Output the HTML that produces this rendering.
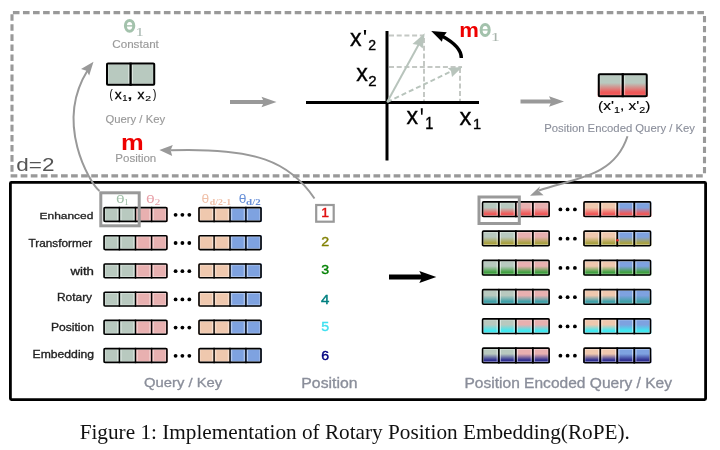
<!DOCTYPE html><html><head><meta charset="utf-8"><style>html,body{margin:0;padding:0;background:#fff;width:720px;height:450px;overflow:hidden}svg{display:block;will-change:transform}</style></head><body>
<svg width="720" height="450" viewBox="0 0 720 450">
<defs>
<linearGradient id="gg0" x1="0" y1="0" x2="0" y2="1"><stop offset="0.4" stop-color="#b8c9bf"/><stop offset="0.8" stop-color="#f05858"/></linearGradient>
<linearGradient id="gp0" x1="0" y1="0" x2="0" y2="1"><stop offset="0.4" stop-color="#e8b0b0"/><stop offset="0.8" stop-color="#f05858"/></linearGradient>
<linearGradient id="ge0" x1="0" y1="0" x2="0" y2="1"><stop offset="0.4" stop-color="#efc8ae"/><stop offset="0.8" stop-color="#f05858"/></linearGradient>
<linearGradient id="gb0" x1="0" y1="0" x2="0" y2="1"><stop offset="0.4" stop-color="#7ea2e0"/><stop offset="0.8" stop-color="#f05858"/></linearGradient>
<linearGradient id="gg1" x1="0" y1="0" x2="0" y2="1"><stop offset="0.4" stop-color="#b8c9bf"/><stop offset="0.8" stop-color="#a8a040"/></linearGradient>
<linearGradient id="gp1" x1="0" y1="0" x2="0" y2="1"><stop offset="0.4" stop-color="#e8b0b0"/><stop offset="0.8" stop-color="#a8a040"/></linearGradient>
<linearGradient id="ge1" x1="0" y1="0" x2="0" y2="1"><stop offset="0.4" stop-color="#efc8ae"/><stop offset="0.8" stop-color="#a8a040"/></linearGradient>
<linearGradient id="gb1" x1="0" y1="0" x2="0" y2="1"><stop offset="0.4" stop-color="#7ea2e0"/><stop offset="0.8" stop-color="#a8a040"/></linearGradient>
<linearGradient id="gg2" x1="0" y1="0" x2="0" y2="1"><stop offset="0.4" stop-color="#b8c9bf"/><stop offset="0.8" stop-color="#40a040"/></linearGradient>
<linearGradient id="gp2" x1="0" y1="0" x2="0" y2="1"><stop offset="0.4" stop-color="#e8b0b0"/><stop offset="0.8" stop-color="#40a040"/></linearGradient>
<linearGradient id="ge2" x1="0" y1="0" x2="0" y2="1"><stop offset="0.4" stop-color="#efc8ae"/><stop offset="0.8" stop-color="#40a040"/></linearGradient>
<linearGradient id="gb2" x1="0" y1="0" x2="0" y2="1"><stop offset="0.4" stop-color="#7ea2e0"/><stop offset="0.8" stop-color="#40a040"/></linearGradient>
<linearGradient id="gg3" x1="0" y1="0" x2="0" y2="1"><stop offset="0.4" stop-color="#b8c9bf"/><stop offset="0.8" stop-color="#40a0a8"/></linearGradient>
<linearGradient id="gp3" x1="0" y1="0" x2="0" y2="1"><stop offset="0.4" stop-color="#e8b0b0"/><stop offset="0.8" stop-color="#40a0a8"/></linearGradient>
<linearGradient id="ge3" x1="0" y1="0" x2="0" y2="1"><stop offset="0.4" stop-color="#efc8ae"/><stop offset="0.8" stop-color="#40a0a8"/></linearGradient>
<linearGradient id="gb3" x1="0" y1="0" x2="0" y2="1"><stop offset="0.4" stop-color="#7ea2e0"/><stop offset="0.8" stop-color="#40a0a8"/></linearGradient>
<linearGradient id="gg4" x1="0" y1="0" x2="0" y2="1"><stop offset="0.4" stop-color="#b8c9bf"/><stop offset="0.8" stop-color="#40e8f0"/></linearGradient>
<linearGradient id="gp4" x1="0" y1="0" x2="0" y2="1"><stop offset="0.4" stop-color="#e8b0b0"/><stop offset="0.8" stop-color="#40e8f0"/></linearGradient>
<linearGradient id="ge4" x1="0" y1="0" x2="0" y2="1"><stop offset="0.4" stop-color="#efc8ae"/><stop offset="0.8" stop-color="#40e8f0"/></linearGradient>
<linearGradient id="gb4" x1="0" y1="0" x2="0" y2="1"><stop offset="0.4" stop-color="#7ea2e0"/><stop offset="0.8" stop-color="#40e8f0"/></linearGradient>
<linearGradient id="gg5" x1="0" y1="0" x2="0" y2="1"><stop offset="0.4" stop-color="#b8c9bf"/><stop offset="0.8" stop-color="#303090"/></linearGradient>
<linearGradient id="gp5" x1="0" y1="0" x2="0" y2="1"><stop offset="0.4" stop-color="#e8b0b0"/><stop offset="0.8" stop-color="#303090"/></linearGradient>
<linearGradient id="ge5" x1="0" y1="0" x2="0" y2="1"><stop offset="0.4" stop-color="#efc8ae"/><stop offset="0.8" stop-color="#303090"/></linearGradient>
<linearGradient id="gb5" x1="0" y1="0" x2="0" y2="1"><stop offset="0.4" stop-color="#7ea2e0"/><stop offset="0.8" stop-color="#303090"/></linearGradient>
</defs>
<g stroke="#999999" stroke-width="3.1" fill="none">
<line x1="12.9" y1="12.65" x2="704.5" y2="12.65" stroke-dasharray="6.6 3.465"/>
<line x1="12" y1="14.2" x2="12" y2="172" stroke-dasharray="6.6 3.46"/>
<line x1="10.6" y1="175.85" x2="703" y2="175.85" stroke-dasharray="6.7 3.38"/>
<line x1="704.5" y1="16" x2="704.5" y2="173.5" stroke-dasharray="6.3 3.76"/>
</g>
<rect x="10.4" y="182.3" width="695.2" height="217.3" fill="none" stroke="#000" stroke-width="2.8" rx="1"/>
<line x1="230" y1="102" x2="268.5" y2="102" stroke="#999999" stroke-width="3.8"/>
<path d="M276.5,102 L261.5,96.7 L264.0,102 L261.5,107.3 Z" fill="#999999"/>
<line x1="520.5" y1="101.5" x2="556" y2="101.5" stroke="#999999" stroke-width="3.8"/>
<path d="M564,101.5 L549,96.2 L551.5,101.5 L549,106.8 Z" fill="#999999"/>
<line x1="306" y1="102.5" x2="479" y2="102.5" stroke="#000" stroke-width="3"/>
<line x1="387" y1="31" x2="387" y2="160.5" stroke="#000" stroke-width="3"/>
<g stroke="#c4c8c4" stroke-width="2" stroke-dasharray="5 2.7" fill="none">
<line x1="389" y1="35.6" x2="424" y2="35.6"/>
<line x1="424" y1="38" x2="424" y2="101"/>
<line x1="389" y1="67" x2="462" y2="67"/>
<line x1="460" y1="68" x2="460" y2="101"/>
</g>
<line x1="387.2" y1="102" x2="419.5" y2="43" stroke="#b8c4bc" stroke-width="2"/>
<path d="M424.7,33.3 L412.5,44 L418.7,45 L422.7,48.5 Z" fill="#b8c4bc"/>
<line x1="387.2" y1="102" x2="452" y2="71" stroke="#b8c4bc" stroke-width="2" stroke-dasharray="5 3"/>
<path d="M462.3,67 L447.8,68 L451,71 L452,77 Z" fill="#b8c4bc"/>
<path d="M461.3,58 C461.5,49 453,42 442,36" stroke="#000" stroke-width="3.5" fill="none"/>
<path d="M431.2,30.9 L446.8,32.2 L443.2,36.7 L441.9,41.8 Z" fill="#000"/>
<g stroke="#999999" stroke-width="2" fill="none">
<path d="M99.5,191 C89.3,182.2 54.6,123.5 87.5,70.5"/>
<path d="M314.5,198.5 C289.7,161.9 256.4,147.6 170.5,150.3"/>
<path d="M627.5,136.3 C614,177.9 573.4,178.1 539,190.5"/>
</g>
<g fill="#999999">
<path d="M93.5,61.8 L81,69 L86.5,70.8 L89.2,75.5 Z"/>
<path d="M159.4,150 L172.8,145 L170.6,150.3 L172.2,156 Z"/>
<path d="M530,195.8 L540,186.2 L538.5,190.7 L543.6,195.3 Z"/>
</g>
<rect x="103.30" y="207.30" width="16.10" height="14.40" fill="#b8c9bf"/>
<rect x="105.00" y="208.50" width="12.70" height="12.00" fill="none" stroke="#fff" stroke-opacity="0.55" stroke-width="0.9"/>
<rect x="119.40" y="207.30" width="16.10" height="14.40" fill="#b8c9bf"/>
<rect x="121.10" y="208.50" width="12.70" height="12.00" fill="none" stroke="#fff" stroke-opacity="0.55" stroke-width="0.9"/>
<rect x="135.50" y="207.30" width="16.10" height="14.40" fill="#e8b0b0"/>
<rect x="137.20" y="208.50" width="12.70" height="12.00" fill="none" stroke="#fff" stroke-opacity="0.55" stroke-width="0.9"/>
<rect x="151.60" y="207.30" width="16.10" height="14.40" fill="#e8b0b0"/>
<rect x="153.30" y="208.50" width="12.70" height="12.00" fill="none" stroke="#fff" stroke-opacity="0.55" stroke-width="0.9"/>
<rect x="104.10" y="207.60" width="62.80" height="13.80" rx="1" fill="none" stroke="#000" stroke-width="1.6"/>
<line x1="119.40" y1="206.80" x2="119.40" y2="222.20" stroke="#000" stroke-width="1.4"/>
<line x1="135.50" y1="206.80" x2="135.50" y2="222.20" stroke="#000" stroke-width="1.4"/>
<line x1="151.60" y1="206.80" x2="151.60" y2="222.20" stroke="#000" stroke-width="1.4"/>
<rect x="198.20" y="207.30" width="15.90" height="14.40" fill="#efc8ae"/>
<rect x="199.90" y="208.50" width="12.50" height="12.00" fill="none" stroke="#fff" stroke-opacity="0.55" stroke-width="0.9"/>
<rect x="214.10" y="207.30" width="15.90" height="14.40" fill="#efc8ae"/>
<rect x="215.80" y="208.50" width="12.50" height="12.00" fill="none" stroke="#fff" stroke-opacity="0.55" stroke-width="0.9"/>
<rect x="230.00" y="207.30" width="15.90" height="14.40" fill="#7ea2e0"/>
<rect x="231.70" y="208.50" width="12.50" height="12.00" fill="none" stroke="#fff" stroke-opacity="0.55" stroke-width="0.9"/>
<rect x="245.90" y="207.30" width="15.90" height="14.40" fill="#7ea2e0"/>
<rect x="247.60" y="208.50" width="12.50" height="12.00" fill="none" stroke="#fff" stroke-opacity="0.55" stroke-width="0.9"/>
<rect x="199.00" y="207.60" width="62.00" height="13.80" rx="1" fill="none" stroke="#000" stroke-width="1.6"/>
<line x1="214.10" y1="206.80" x2="214.10" y2="222.20" stroke="#000" stroke-width="1.4"/>
<line x1="230.00" y1="206.80" x2="230.00" y2="222.20" stroke="#000" stroke-width="1.4"/>
<line x1="245.90" y1="206.80" x2="245.90" y2="222.20" stroke="#000" stroke-width="1.4"/>
<circle cx="175.6" cy="214.8" r="1.9" fill="#000"/>
<circle cx="182.4" cy="214.8" r="1.9" fill="#000"/>
<circle cx="189.3" cy="214.8" r="1.9" fill="#000"/>
<rect x="481.80" y="201.60" width="17.02" height="15.20" fill="url(#gg0)"/>
<rect x="483.50" y="202.80" width="13.62" height="12.80" fill="none" stroke="#fff" stroke-opacity="0.55" stroke-width="0.9"/>
<rect x="498.82" y="201.60" width="17.02" height="15.20" fill="url(#gg0)"/>
<rect x="500.52" y="202.80" width="13.62" height="12.80" fill="none" stroke="#fff" stroke-opacity="0.55" stroke-width="0.9"/>
<rect x="515.85" y="201.60" width="17.02" height="15.20" fill="url(#gp0)"/>
<rect x="517.55" y="202.80" width="13.62" height="12.80" fill="none" stroke="#fff" stroke-opacity="0.55" stroke-width="0.9"/>
<rect x="532.88" y="201.60" width="17.02" height="15.20" fill="url(#gp0)"/>
<rect x="534.57" y="202.80" width="13.62" height="12.80" fill="none" stroke="#fff" stroke-opacity="0.55" stroke-width="0.9"/>
<rect x="482.60" y="201.90" width="66.50" height="14.60" rx="1" fill="none" stroke="#000" stroke-width="1.6"/>
<line x1="498.82" y1="201.10" x2="498.82" y2="217.30" stroke="#000" stroke-width="1.7"/>
<line x1="515.85" y1="201.10" x2="515.85" y2="217.30" stroke="#000" stroke-width="1.7"/>
<line x1="532.88" y1="201.10" x2="532.88" y2="217.30" stroke="#000" stroke-width="1.7"/>
<rect x="583.20" y="201.60" width="17.02" height="15.20" fill="url(#ge0)"/>
<rect x="584.90" y="202.80" width="13.62" height="12.80" fill="none" stroke="#fff" stroke-opacity="0.55" stroke-width="0.9"/>
<rect x="600.23" y="201.60" width="17.02" height="15.20" fill="url(#ge0)"/>
<rect x="601.92" y="202.80" width="13.62" height="12.80" fill="none" stroke="#fff" stroke-opacity="0.55" stroke-width="0.9"/>
<rect x="617.25" y="201.60" width="17.02" height="15.20" fill="url(#gb0)"/>
<rect x="618.95" y="202.80" width="13.62" height="12.80" fill="none" stroke="#fff" stroke-opacity="0.55" stroke-width="0.9"/>
<rect x="634.27" y="201.60" width="17.02" height="15.20" fill="url(#gb0)"/>
<rect x="635.97" y="202.80" width="13.62" height="12.80" fill="none" stroke="#fff" stroke-opacity="0.55" stroke-width="0.9"/>
<rect x="584.00" y="201.90" width="66.50" height="14.60" rx="1" fill="none" stroke="#000" stroke-width="1.6"/>
<line x1="600.23" y1="201.10" x2="600.23" y2="217.30" stroke="#000" stroke-width="1.7"/>
<line x1="617.25" y1="201.10" x2="617.25" y2="217.30" stroke="#000" stroke-width="1.7"/>
<line x1="634.27" y1="201.10" x2="634.27" y2="217.30" stroke="#000" stroke-width="1.7"/>
<circle cx="560.4" cy="209.4" r="1.9" fill="#000"/>
<circle cx="567.6" cy="209.4" r="1.9" fill="#000"/>
<circle cx="574.9" cy="209.4" r="1.9" fill="#000"/>
<rect x="103.30" y="235.50" width="16.10" height="14.40" fill="#b8c9bf"/>
<rect x="105.00" y="236.70" width="12.70" height="12.00" fill="none" stroke="#fff" stroke-opacity="0.55" stroke-width="0.9"/>
<rect x="119.40" y="235.50" width="16.10" height="14.40" fill="#b8c9bf"/>
<rect x="121.10" y="236.70" width="12.70" height="12.00" fill="none" stroke="#fff" stroke-opacity="0.55" stroke-width="0.9"/>
<rect x="135.50" y="235.50" width="16.10" height="14.40" fill="#e8b0b0"/>
<rect x="137.20" y="236.70" width="12.70" height="12.00" fill="none" stroke="#fff" stroke-opacity="0.55" stroke-width="0.9"/>
<rect x="151.60" y="235.50" width="16.10" height="14.40" fill="#e8b0b0"/>
<rect x="153.30" y="236.70" width="12.70" height="12.00" fill="none" stroke="#fff" stroke-opacity="0.55" stroke-width="0.9"/>
<rect x="104.10" y="235.80" width="62.80" height="13.80" rx="1" fill="none" stroke="#000" stroke-width="1.6"/>
<line x1="119.40" y1="235.00" x2="119.40" y2="250.40" stroke="#000" stroke-width="1.4"/>
<line x1="135.50" y1="235.00" x2="135.50" y2="250.40" stroke="#000" stroke-width="1.4"/>
<line x1="151.60" y1="235.00" x2="151.60" y2="250.40" stroke="#000" stroke-width="1.4"/>
<rect x="198.20" y="235.50" width="15.90" height="14.40" fill="#efc8ae"/>
<rect x="199.90" y="236.70" width="12.50" height="12.00" fill="none" stroke="#fff" stroke-opacity="0.55" stroke-width="0.9"/>
<rect x="214.10" y="235.50" width="15.90" height="14.40" fill="#efc8ae"/>
<rect x="215.80" y="236.70" width="12.50" height="12.00" fill="none" stroke="#fff" stroke-opacity="0.55" stroke-width="0.9"/>
<rect x="230.00" y="235.50" width="15.90" height="14.40" fill="#7ea2e0"/>
<rect x="231.70" y="236.70" width="12.50" height="12.00" fill="none" stroke="#fff" stroke-opacity="0.55" stroke-width="0.9"/>
<rect x="245.90" y="235.50" width="15.90" height="14.40" fill="#7ea2e0"/>
<rect x="247.60" y="236.70" width="12.50" height="12.00" fill="none" stroke="#fff" stroke-opacity="0.55" stroke-width="0.9"/>
<rect x="199.00" y="235.80" width="62.00" height="13.80" rx="1" fill="none" stroke="#000" stroke-width="1.6"/>
<line x1="214.10" y1="235.00" x2="214.10" y2="250.40" stroke="#000" stroke-width="1.4"/>
<line x1="230.00" y1="235.00" x2="230.00" y2="250.40" stroke="#000" stroke-width="1.4"/>
<line x1="245.90" y1="235.00" x2="245.90" y2="250.40" stroke="#000" stroke-width="1.4"/>
<circle cx="175.6" cy="243.0" r="1.9" fill="#000"/>
<circle cx="182.4" cy="243.0" r="1.9" fill="#000"/>
<circle cx="189.3" cy="243.0" r="1.9" fill="#000"/>
<rect x="481.80" y="230.85" width="17.02" height="15.20" fill="url(#gg1)"/>
<rect x="483.50" y="232.05" width="13.62" height="12.80" fill="none" stroke="#fff" stroke-opacity="0.55" stroke-width="0.9"/>
<rect x="498.82" y="230.85" width="17.02" height="15.20" fill="url(#gg1)"/>
<rect x="500.52" y="232.05" width="13.62" height="12.80" fill="none" stroke="#fff" stroke-opacity="0.55" stroke-width="0.9"/>
<rect x="515.85" y="230.85" width="17.02" height="15.20" fill="url(#gp1)"/>
<rect x="517.55" y="232.05" width="13.62" height="12.80" fill="none" stroke="#fff" stroke-opacity="0.55" stroke-width="0.9"/>
<rect x="532.88" y="230.85" width="17.02" height="15.20" fill="url(#gp1)"/>
<rect x="534.57" y="232.05" width="13.62" height="12.80" fill="none" stroke="#fff" stroke-opacity="0.55" stroke-width="0.9"/>
<rect x="482.60" y="231.15" width="66.50" height="14.60" rx="1" fill="none" stroke="#000" stroke-width="1.6"/>
<line x1="498.82" y1="230.35" x2="498.82" y2="246.55" stroke="#000" stroke-width="1.7"/>
<line x1="515.85" y1="230.35" x2="515.85" y2="246.55" stroke="#000" stroke-width="1.7"/>
<line x1="532.88" y1="230.35" x2="532.88" y2="246.55" stroke="#000" stroke-width="1.7"/>
<rect x="583.20" y="230.85" width="17.02" height="15.20" fill="url(#ge1)"/>
<rect x="584.90" y="232.05" width="13.62" height="12.80" fill="none" stroke="#fff" stroke-opacity="0.55" stroke-width="0.9"/>
<rect x="600.23" y="230.85" width="17.02" height="15.20" fill="url(#ge1)"/>
<rect x="601.92" y="232.05" width="13.62" height="12.80" fill="none" stroke="#fff" stroke-opacity="0.55" stroke-width="0.9"/>
<rect x="617.25" y="230.85" width="17.02" height="15.20" fill="url(#gb1)"/>
<rect x="618.95" y="232.05" width="13.62" height="12.80" fill="none" stroke="#fff" stroke-opacity="0.55" stroke-width="0.9"/>
<rect x="634.27" y="230.85" width="17.02" height="15.20" fill="url(#gb1)"/>
<rect x="635.97" y="232.05" width="13.62" height="12.80" fill="none" stroke="#fff" stroke-opacity="0.55" stroke-width="0.9"/>
<rect x="584.00" y="231.15" width="66.50" height="14.60" rx="1" fill="none" stroke="#000" stroke-width="1.6"/>
<line x1="600.23" y1="230.35" x2="600.23" y2="246.55" stroke="#000" stroke-width="1.7"/>
<line x1="617.25" y1="230.35" x2="617.25" y2="246.55" stroke="#000" stroke-width="1.7"/>
<line x1="634.27" y1="230.35" x2="634.27" y2="246.55" stroke="#000" stroke-width="1.7"/>
<circle cx="560.4" cy="238.65" r="1.9" fill="#000"/>
<circle cx="567.6" cy="238.65" r="1.9" fill="#000"/>
<circle cx="574.9" cy="238.65" r="1.9" fill="#000"/>
<rect x="103.30" y="263.70" width="16.10" height="14.40" fill="#b8c9bf"/>
<rect x="105.00" y="264.90" width="12.70" height="12.00" fill="none" stroke="#fff" stroke-opacity="0.55" stroke-width="0.9"/>
<rect x="119.40" y="263.70" width="16.10" height="14.40" fill="#b8c9bf"/>
<rect x="121.10" y="264.90" width="12.70" height="12.00" fill="none" stroke="#fff" stroke-opacity="0.55" stroke-width="0.9"/>
<rect x="135.50" y="263.70" width="16.10" height="14.40" fill="#e8b0b0"/>
<rect x="137.20" y="264.90" width="12.70" height="12.00" fill="none" stroke="#fff" stroke-opacity="0.55" stroke-width="0.9"/>
<rect x="151.60" y="263.70" width="16.10" height="14.40" fill="#e8b0b0"/>
<rect x="153.30" y="264.90" width="12.70" height="12.00" fill="none" stroke="#fff" stroke-opacity="0.55" stroke-width="0.9"/>
<rect x="104.10" y="264.00" width="62.80" height="13.80" rx="1" fill="none" stroke="#000" stroke-width="1.6"/>
<line x1="119.40" y1="263.20" x2="119.40" y2="278.60" stroke="#000" stroke-width="1.4"/>
<line x1="135.50" y1="263.20" x2="135.50" y2="278.60" stroke="#000" stroke-width="1.4"/>
<line x1="151.60" y1="263.20" x2="151.60" y2="278.60" stroke="#000" stroke-width="1.4"/>
<rect x="198.20" y="263.70" width="15.90" height="14.40" fill="#efc8ae"/>
<rect x="199.90" y="264.90" width="12.50" height="12.00" fill="none" stroke="#fff" stroke-opacity="0.55" stroke-width="0.9"/>
<rect x="214.10" y="263.70" width="15.90" height="14.40" fill="#efc8ae"/>
<rect x="215.80" y="264.90" width="12.50" height="12.00" fill="none" stroke="#fff" stroke-opacity="0.55" stroke-width="0.9"/>
<rect x="230.00" y="263.70" width="15.90" height="14.40" fill="#7ea2e0"/>
<rect x="231.70" y="264.90" width="12.50" height="12.00" fill="none" stroke="#fff" stroke-opacity="0.55" stroke-width="0.9"/>
<rect x="245.90" y="263.70" width="15.90" height="14.40" fill="#7ea2e0"/>
<rect x="247.60" y="264.90" width="12.50" height="12.00" fill="none" stroke="#fff" stroke-opacity="0.55" stroke-width="0.9"/>
<rect x="199.00" y="264.00" width="62.00" height="13.80" rx="1" fill="none" stroke="#000" stroke-width="1.6"/>
<line x1="214.10" y1="263.20" x2="214.10" y2="278.60" stroke="#000" stroke-width="1.4"/>
<line x1="230.00" y1="263.20" x2="230.00" y2="278.60" stroke="#000" stroke-width="1.4"/>
<line x1="245.90" y1="263.20" x2="245.90" y2="278.60" stroke="#000" stroke-width="1.4"/>
<circle cx="175.6" cy="271.2" r="1.9" fill="#000"/>
<circle cx="182.4" cy="271.2" r="1.9" fill="#000"/>
<circle cx="189.3" cy="271.2" r="1.9" fill="#000"/>
<rect x="481.80" y="260.10" width="17.02" height="15.20" fill="url(#gg2)"/>
<rect x="483.50" y="261.30" width="13.62" height="12.80" fill="none" stroke="#fff" stroke-opacity="0.55" stroke-width="0.9"/>
<rect x="498.82" y="260.10" width="17.02" height="15.20" fill="url(#gg2)"/>
<rect x="500.52" y="261.30" width="13.62" height="12.80" fill="none" stroke="#fff" stroke-opacity="0.55" stroke-width="0.9"/>
<rect x="515.85" y="260.10" width="17.02" height="15.20" fill="url(#gp2)"/>
<rect x="517.55" y="261.30" width="13.62" height="12.80" fill="none" stroke="#fff" stroke-opacity="0.55" stroke-width="0.9"/>
<rect x="532.88" y="260.10" width="17.02" height="15.20" fill="url(#gp2)"/>
<rect x="534.57" y="261.30" width="13.62" height="12.80" fill="none" stroke="#fff" stroke-opacity="0.55" stroke-width="0.9"/>
<rect x="482.60" y="260.40" width="66.50" height="14.60" rx="1" fill="none" stroke="#000" stroke-width="1.6"/>
<line x1="498.82" y1="259.60" x2="498.82" y2="275.80" stroke="#000" stroke-width="1.7"/>
<line x1="515.85" y1="259.60" x2="515.85" y2="275.80" stroke="#000" stroke-width="1.7"/>
<line x1="532.88" y1="259.60" x2="532.88" y2="275.80" stroke="#000" stroke-width="1.7"/>
<rect x="583.20" y="260.10" width="17.02" height="15.20" fill="url(#ge2)"/>
<rect x="584.90" y="261.30" width="13.62" height="12.80" fill="none" stroke="#fff" stroke-opacity="0.55" stroke-width="0.9"/>
<rect x="600.23" y="260.10" width="17.02" height="15.20" fill="url(#ge2)"/>
<rect x="601.92" y="261.30" width="13.62" height="12.80" fill="none" stroke="#fff" stroke-opacity="0.55" stroke-width="0.9"/>
<rect x="617.25" y="260.10" width="17.02" height="15.20" fill="url(#gb2)"/>
<rect x="618.95" y="261.30" width="13.62" height="12.80" fill="none" stroke="#fff" stroke-opacity="0.55" stroke-width="0.9"/>
<rect x="634.27" y="260.10" width="17.02" height="15.20" fill="url(#gb2)"/>
<rect x="635.97" y="261.30" width="13.62" height="12.80" fill="none" stroke="#fff" stroke-opacity="0.55" stroke-width="0.9"/>
<rect x="584.00" y="260.40" width="66.50" height="14.60" rx="1" fill="none" stroke="#000" stroke-width="1.6"/>
<line x1="600.23" y1="259.60" x2="600.23" y2="275.80" stroke="#000" stroke-width="1.7"/>
<line x1="617.25" y1="259.60" x2="617.25" y2="275.80" stroke="#000" stroke-width="1.7"/>
<line x1="634.27" y1="259.60" x2="634.27" y2="275.80" stroke="#000" stroke-width="1.7"/>
<circle cx="560.4" cy="267.90000000000003" r="1.9" fill="#000"/>
<circle cx="567.6" cy="267.90000000000003" r="1.9" fill="#000"/>
<circle cx="574.9" cy="267.90000000000003" r="1.9" fill="#000"/>
<rect x="103.30" y="291.90" width="16.10" height="14.40" fill="#b8c9bf"/>
<rect x="105.00" y="293.10" width="12.70" height="12.00" fill="none" stroke="#fff" stroke-opacity="0.55" stroke-width="0.9"/>
<rect x="119.40" y="291.90" width="16.10" height="14.40" fill="#b8c9bf"/>
<rect x="121.10" y="293.10" width="12.70" height="12.00" fill="none" stroke="#fff" stroke-opacity="0.55" stroke-width="0.9"/>
<rect x="135.50" y="291.90" width="16.10" height="14.40" fill="#e8b0b0"/>
<rect x="137.20" y="293.10" width="12.70" height="12.00" fill="none" stroke="#fff" stroke-opacity="0.55" stroke-width="0.9"/>
<rect x="151.60" y="291.90" width="16.10" height="14.40" fill="#e8b0b0"/>
<rect x="153.30" y="293.10" width="12.70" height="12.00" fill="none" stroke="#fff" stroke-opacity="0.55" stroke-width="0.9"/>
<rect x="104.10" y="292.20" width="62.80" height="13.80" rx="1" fill="none" stroke="#000" stroke-width="1.6"/>
<line x1="119.40" y1="291.40" x2="119.40" y2="306.80" stroke="#000" stroke-width="1.4"/>
<line x1="135.50" y1="291.40" x2="135.50" y2="306.80" stroke="#000" stroke-width="1.4"/>
<line x1="151.60" y1="291.40" x2="151.60" y2="306.80" stroke="#000" stroke-width="1.4"/>
<rect x="198.20" y="291.90" width="15.90" height="14.40" fill="#efc8ae"/>
<rect x="199.90" y="293.10" width="12.50" height="12.00" fill="none" stroke="#fff" stroke-opacity="0.55" stroke-width="0.9"/>
<rect x="214.10" y="291.90" width="15.90" height="14.40" fill="#efc8ae"/>
<rect x="215.80" y="293.10" width="12.50" height="12.00" fill="none" stroke="#fff" stroke-opacity="0.55" stroke-width="0.9"/>
<rect x="230.00" y="291.90" width="15.90" height="14.40" fill="#7ea2e0"/>
<rect x="231.70" y="293.10" width="12.50" height="12.00" fill="none" stroke="#fff" stroke-opacity="0.55" stroke-width="0.9"/>
<rect x="245.90" y="291.90" width="15.90" height="14.40" fill="#7ea2e0"/>
<rect x="247.60" y="293.10" width="12.50" height="12.00" fill="none" stroke="#fff" stroke-opacity="0.55" stroke-width="0.9"/>
<rect x="199.00" y="292.20" width="62.00" height="13.80" rx="1" fill="none" stroke="#000" stroke-width="1.6"/>
<line x1="214.10" y1="291.40" x2="214.10" y2="306.80" stroke="#000" stroke-width="1.4"/>
<line x1="230.00" y1="291.40" x2="230.00" y2="306.80" stroke="#000" stroke-width="1.4"/>
<line x1="245.90" y1="291.40" x2="245.90" y2="306.80" stroke="#000" stroke-width="1.4"/>
<circle cx="175.6" cy="299.4" r="1.9" fill="#000"/>
<circle cx="182.4" cy="299.4" r="1.9" fill="#000"/>
<circle cx="189.3" cy="299.4" r="1.9" fill="#000"/>
<rect x="481.80" y="289.35" width="17.02" height="15.20" fill="url(#gg3)"/>
<rect x="483.50" y="290.55" width="13.62" height="12.80" fill="none" stroke="#fff" stroke-opacity="0.55" stroke-width="0.9"/>
<rect x="498.82" y="289.35" width="17.02" height="15.20" fill="url(#gg3)"/>
<rect x="500.52" y="290.55" width="13.62" height="12.80" fill="none" stroke="#fff" stroke-opacity="0.55" stroke-width="0.9"/>
<rect x="515.85" y="289.35" width="17.02" height="15.20" fill="url(#gp3)"/>
<rect x="517.55" y="290.55" width="13.62" height="12.80" fill="none" stroke="#fff" stroke-opacity="0.55" stroke-width="0.9"/>
<rect x="532.88" y="289.35" width="17.02" height="15.20" fill="url(#gp3)"/>
<rect x="534.57" y="290.55" width="13.62" height="12.80" fill="none" stroke="#fff" stroke-opacity="0.55" stroke-width="0.9"/>
<rect x="482.60" y="289.65" width="66.50" height="14.60" rx="1" fill="none" stroke="#000" stroke-width="1.6"/>
<line x1="498.82" y1="288.85" x2="498.82" y2="305.05" stroke="#000" stroke-width="1.7"/>
<line x1="515.85" y1="288.85" x2="515.85" y2="305.05" stroke="#000" stroke-width="1.7"/>
<line x1="532.88" y1="288.85" x2="532.88" y2="305.05" stroke="#000" stroke-width="1.7"/>
<rect x="583.20" y="289.35" width="17.02" height="15.20" fill="url(#ge3)"/>
<rect x="584.90" y="290.55" width="13.62" height="12.80" fill="none" stroke="#fff" stroke-opacity="0.55" stroke-width="0.9"/>
<rect x="600.23" y="289.35" width="17.02" height="15.20" fill="url(#ge3)"/>
<rect x="601.92" y="290.55" width="13.62" height="12.80" fill="none" stroke="#fff" stroke-opacity="0.55" stroke-width="0.9"/>
<rect x="617.25" y="289.35" width="17.02" height="15.20" fill="url(#gb3)"/>
<rect x="618.95" y="290.55" width="13.62" height="12.80" fill="none" stroke="#fff" stroke-opacity="0.55" stroke-width="0.9"/>
<rect x="634.27" y="289.35" width="17.02" height="15.20" fill="url(#gb3)"/>
<rect x="635.97" y="290.55" width="13.62" height="12.80" fill="none" stroke="#fff" stroke-opacity="0.55" stroke-width="0.9"/>
<rect x="584.00" y="289.65" width="66.50" height="14.60" rx="1" fill="none" stroke="#000" stroke-width="1.6"/>
<line x1="600.23" y1="288.85" x2="600.23" y2="305.05" stroke="#000" stroke-width="1.7"/>
<line x1="617.25" y1="288.85" x2="617.25" y2="305.05" stroke="#000" stroke-width="1.7"/>
<line x1="634.27" y1="288.85" x2="634.27" y2="305.05" stroke="#000" stroke-width="1.7"/>
<circle cx="560.4" cy="297.15000000000003" r="1.9" fill="#000"/>
<circle cx="567.6" cy="297.15000000000003" r="1.9" fill="#000"/>
<circle cx="574.9" cy="297.15000000000003" r="1.9" fill="#000"/>
<rect x="103.30" y="320.10" width="16.10" height="14.40" fill="#b8c9bf"/>
<rect x="105.00" y="321.30" width="12.70" height="12.00" fill="none" stroke="#fff" stroke-opacity="0.55" stroke-width="0.9"/>
<rect x="119.40" y="320.10" width="16.10" height="14.40" fill="#b8c9bf"/>
<rect x="121.10" y="321.30" width="12.70" height="12.00" fill="none" stroke="#fff" stroke-opacity="0.55" stroke-width="0.9"/>
<rect x="135.50" y="320.10" width="16.10" height="14.40" fill="#e8b0b0"/>
<rect x="137.20" y="321.30" width="12.70" height="12.00" fill="none" stroke="#fff" stroke-opacity="0.55" stroke-width="0.9"/>
<rect x="151.60" y="320.10" width="16.10" height="14.40" fill="#e8b0b0"/>
<rect x="153.30" y="321.30" width="12.70" height="12.00" fill="none" stroke="#fff" stroke-opacity="0.55" stroke-width="0.9"/>
<rect x="104.10" y="320.40" width="62.80" height="13.80" rx="1" fill="none" stroke="#000" stroke-width="1.6"/>
<line x1="119.40" y1="319.60" x2="119.40" y2="335.00" stroke="#000" stroke-width="1.4"/>
<line x1="135.50" y1="319.60" x2="135.50" y2="335.00" stroke="#000" stroke-width="1.4"/>
<line x1="151.60" y1="319.60" x2="151.60" y2="335.00" stroke="#000" stroke-width="1.4"/>
<rect x="198.20" y="320.10" width="15.90" height="14.40" fill="#efc8ae"/>
<rect x="199.90" y="321.30" width="12.50" height="12.00" fill="none" stroke="#fff" stroke-opacity="0.55" stroke-width="0.9"/>
<rect x="214.10" y="320.10" width="15.90" height="14.40" fill="#efc8ae"/>
<rect x="215.80" y="321.30" width="12.50" height="12.00" fill="none" stroke="#fff" stroke-opacity="0.55" stroke-width="0.9"/>
<rect x="230.00" y="320.10" width="15.90" height="14.40" fill="#7ea2e0"/>
<rect x="231.70" y="321.30" width="12.50" height="12.00" fill="none" stroke="#fff" stroke-opacity="0.55" stroke-width="0.9"/>
<rect x="245.90" y="320.10" width="15.90" height="14.40" fill="#7ea2e0"/>
<rect x="247.60" y="321.30" width="12.50" height="12.00" fill="none" stroke="#fff" stroke-opacity="0.55" stroke-width="0.9"/>
<rect x="199.00" y="320.40" width="62.00" height="13.80" rx="1" fill="none" stroke="#000" stroke-width="1.6"/>
<line x1="214.10" y1="319.60" x2="214.10" y2="335.00" stroke="#000" stroke-width="1.4"/>
<line x1="230.00" y1="319.60" x2="230.00" y2="335.00" stroke="#000" stroke-width="1.4"/>
<line x1="245.90" y1="319.60" x2="245.90" y2="335.00" stroke="#000" stroke-width="1.4"/>
<circle cx="175.6" cy="327.6" r="1.9" fill="#000"/>
<circle cx="182.4" cy="327.6" r="1.9" fill="#000"/>
<circle cx="189.3" cy="327.6" r="1.9" fill="#000"/>
<rect x="481.80" y="318.60" width="17.02" height="15.20" fill="url(#gg4)"/>
<rect x="483.50" y="319.80" width="13.62" height="12.80" fill="none" stroke="#fff" stroke-opacity="0.55" stroke-width="0.9"/>
<rect x="498.82" y="318.60" width="17.02" height="15.20" fill="url(#gg4)"/>
<rect x="500.52" y="319.80" width="13.62" height="12.80" fill="none" stroke="#fff" stroke-opacity="0.55" stroke-width="0.9"/>
<rect x="515.85" y="318.60" width="17.02" height="15.20" fill="url(#gp4)"/>
<rect x="517.55" y="319.80" width="13.62" height="12.80" fill="none" stroke="#fff" stroke-opacity="0.55" stroke-width="0.9"/>
<rect x="532.88" y="318.60" width="17.02" height="15.20" fill="url(#gp4)"/>
<rect x="534.57" y="319.80" width="13.62" height="12.80" fill="none" stroke="#fff" stroke-opacity="0.55" stroke-width="0.9"/>
<rect x="482.60" y="318.90" width="66.50" height="14.60" rx="1" fill="none" stroke="#000" stroke-width="1.6"/>
<line x1="498.82" y1="318.10" x2="498.82" y2="334.30" stroke="#000" stroke-width="1.7"/>
<line x1="515.85" y1="318.10" x2="515.85" y2="334.30" stroke="#000" stroke-width="1.7"/>
<line x1="532.88" y1="318.10" x2="532.88" y2="334.30" stroke="#000" stroke-width="1.7"/>
<rect x="583.20" y="318.60" width="17.02" height="15.20" fill="url(#ge4)"/>
<rect x="584.90" y="319.80" width="13.62" height="12.80" fill="none" stroke="#fff" stroke-opacity="0.55" stroke-width="0.9"/>
<rect x="600.23" y="318.60" width="17.02" height="15.20" fill="url(#ge4)"/>
<rect x="601.92" y="319.80" width="13.62" height="12.80" fill="none" stroke="#fff" stroke-opacity="0.55" stroke-width="0.9"/>
<rect x="617.25" y="318.60" width="17.02" height="15.20" fill="url(#gb4)"/>
<rect x="618.95" y="319.80" width="13.62" height="12.80" fill="none" stroke="#fff" stroke-opacity="0.55" stroke-width="0.9"/>
<rect x="634.27" y="318.60" width="17.02" height="15.20" fill="url(#gb4)"/>
<rect x="635.97" y="319.80" width="13.62" height="12.80" fill="none" stroke="#fff" stroke-opacity="0.55" stroke-width="0.9"/>
<rect x="584.00" y="318.90" width="66.50" height="14.60" rx="1" fill="none" stroke="#000" stroke-width="1.6"/>
<line x1="600.23" y1="318.10" x2="600.23" y2="334.30" stroke="#000" stroke-width="1.7"/>
<line x1="617.25" y1="318.10" x2="617.25" y2="334.30" stroke="#000" stroke-width="1.7"/>
<line x1="634.27" y1="318.10" x2="634.27" y2="334.30" stroke="#000" stroke-width="1.7"/>
<circle cx="560.4" cy="326.40000000000003" r="1.9" fill="#000"/>
<circle cx="567.6" cy="326.40000000000003" r="1.9" fill="#000"/>
<circle cx="574.9" cy="326.40000000000003" r="1.9" fill="#000"/>
<rect x="103.30" y="348.30" width="16.10" height="14.40" fill="#b8c9bf"/>
<rect x="105.00" y="349.50" width="12.70" height="12.00" fill="none" stroke="#fff" stroke-opacity="0.55" stroke-width="0.9"/>
<rect x="119.40" y="348.30" width="16.10" height="14.40" fill="#b8c9bf"/>
<rect x="121.10" y="349.50" width="12.70" height="12.00" fill="none" stroke="#fff" stroke-opacity="0.55" stroke-width="0.9"/>
<rect x="135.50" y="348.30" width="16.10" height="14.40" fill="#e8b0b0"/>
<rect x="137.20" y="349.50" width="12.70" height="12.00" fill="none" stroke="#fff" stroke-opacity="0.55" stroke-width="0.9"/>
<rect x="151.60" y="348.30" width="16.10" height="14.40" fill="#e8b0b0"/>
<rect x="153.30" y="349.50" width="12.70" height="12.00" fill="none" stroke="#fff" stroke-opacity="0.55" stroke-width="0.9"/>
<rect x="104.10" y="348.60" width="62.80" height="13.80" rx="1" fill="none" stroke="#000" stroke-width="1.6"/>
<line x1="119.40" y1="347.80" x2="119.40" y2="363.20" stroke="#000" stroke-width="1.4"/>
<line x1="135.50" y1="347.80" x2="135.50" y2="363.20" stroke="#000" stroke-width="1.4"/>
<line x1="151.60" y1="347.80" x2="151.60" y2="363.20" stroke="#000" stroke-width="1.4"/>
<rect x="198.20" y="348.30" width="15.90" height="14.40" fill="#efc8ae"/>
<rect x="199.90" y="349.50" width="12.50" height="12.00" fill="none" stroke="#fff" stroke-opacity="0.55" stroke-width="0.9"/>
<rect x="214.10" y="348.30" width="15.90" height="14.40" fill="#efc8ae"/>
<rect x="215.80" y="349.50" width="12.50" height="12.00" fill="none" stroke="#fff" stroke-opacity="0.55" stroke-width="0.9"/>
<rect x="230.00" y="348.30" width="15.90" height="14.40" fill="#7ea2e0"/>
<rect x="231.70" y="349.50" width="12.50" height="12.00" fill="none" stroke="#fff" stroke-opacity="0.55" stroke-width="0.9"/>
<rect x="245.90" y="348.30" width="15.90" height="14.40" fill="#7ea2e0"/>
<rect x="247.60" y="349.50" width="12.50" height="12.00" fill="none" stroke="#fff" stroke-opacity="0.55" stroke-width="0.9"/>
<rect x="199.00" y="348.60" width="62.00" height="13.80" rx="1" fill="none" stroke="#000" stroke-width="1.6"/>
<line x1="214.10" y1="347.80" x2="214.10" y2="363.20" stroke="#000" stroke-width="1.4"/>
<line x1="230.00" y1="347.80" x2="230.00" y2="363.20" stroke="#000" stroke-width="1.4"/>
<line x1="245.90" y1="347.80" x2="245.90" y2="363.20" stroke="#000" stroke-width="1.4"/>
<circle cx="175.6" cy="355.8" r="1.9" fill="#000"/>
<circle cx="182.4" cy="355.8" r="1.9" fill="#000"/>
<circle cx="189.3" cy="355.8" r="1.9" fill="#000"/>
<rect x="481.80" y="347.85" width="17.02" height="15.20" fill="url(#gg5)"/>
<rect x="483.50" y="349.05" width="13.62" height="12.80" fill="none" stroke="#fff" stroke-opacity="0.55" stroke-width="0.9"/>
<rect x="498.82" y="347.85" width="17.02" height="15.20" fill="url(#gg5)"/>
<rect x="500.52" y="349.05" width="13.62" height="12.80" fill="none" stroke="#fff" stroke-opacity="0.55" stroke-width="0.9"/>
<rect x="515.85" y="347.85" width="17.02" height="15.20" fill="url(#gp5)"/>
<rect x="517.55" y="349.05" width="13.62" height="12.80" fill="none" stroke="#fff" stroke-opacity="0.55" stroke-width="0.9"/>
<rect x="532.88" y="347.85" width="17.02" height="15.20" fill="url(#gp5)"/>
<rect x="534.57" y="349.05" width="13.62" height="12.80" fill="none" stroke="#fff" stroke-opacity="0.55" stroke-width="0.9"/>
<rect x="482.60" y="348.15" width="66.50" height="14.60" rx="1" fill="none" stroke="#000" stroke-width="1.6"/>
<line x1="498.82" y1="347.35" x2="498.82" y2="363.55" stroke="#000" stroke-width="1.7"/>
<line x1="515.85" y1="347.35" x2="515.85" y2="363.55" stroke="#000" stroke-width="1.7"/>
<line x1="532.88" y1="347.35" x2="532.88" y2="363.55" stroke="#000" stroke-width="1.7"/>
<rect x="583.20" y="347.85" width="17.02" height="15.20" fill="url(#ge5)"/>
<rect x="584.90" y="349.05" width="13.62" height="12.80" fill="none" stroke="#fff" stroke-opacity="0.55" stroke-width="0.9"/>
<rect x="600.23" y="347.85" width="17.02" height="15.20" fill="url(#ge5)"/>
<rect x="601.92" y="349.05" width="13.62" height="12.80" fill="none" stroke="#fff" stroke-opacity="0.55" stroke-width="0.9"/>
<rect x="617.25" y="347.85" width="17.02" height="15.20" fill="url(#gb5)"/>
<rect x="618.95" y="349.05" width="13.62" height="12.80" fill="none" stroke="#fff" stroke-opacity="0.55" stroke-width="0.9"/>
<rect x="634.27" y="347.85" width="17.02" height="15.20" fill="url(#gb5)"/>
<rect x="635.97" y="349.05" width="13.62" height="12.80" fill="none" stroke="#fff" stroke-opacity="0.55" stroke-width="0.9"/>
<rect x="584.00" y="348.15" width="66.50" height="14.60" rx="1" fill="none" stroke="#000" stroke-width="1.6"/>
<line x1="600.23" y1="347.35" x2="600.23" y2="363.55" stroke="#000" stroke-width="1.7"/>
<line x1="617.25" y1="347.35" x2="617.25" y2="363.55" stroke="#000" stroke-width="1.7"/>
<line x1="634.27" y1="347.35" x2="634.27" y2="363.55" stroke="#000" stroke-width="1.7"/>
<circle cx="560.4" cy="355.65000000000003" r="1.9" fill="#000"/>
<circle cx="567.6" cy="355.65000000000003" r="1.9" fill="#000"/>
<circle cx="574.9" cy="355.65000000000003" r="1.9" fill="#000"/>
<rect x="106.00" y="63.10" width="24.60" height="22.20" fill="#b8c9bf"/>
<rect x="107.90" y="64.50" width="20.80" height="19.40" fill="none" stroke="#fff" stroke-opacity="0.55" stroke-width="0.9"/>
<rect x="130.60" y="63.10" width="24.60" height="22.20" fill="#b8c9bf"/>
<rect x="132.50" y="64.50" width="20.80" height="19.40" fill="none" stroke="#fff" stroke-opacity="0.55" stroke-width="0.9"/>
<rect x="107.00" y="63.60" width="47.20" height="21.20" rx="1" fill="none" stroke="#000" stroke-width="2"/>
<line x1="130.60" y1="62.60" x2="130.60" y2="85.80" stroke="#000" stroke-width="2.2"/>
<rect x="597.80" y="73.70" width="24.95" height="23.00" fill="url(#gg0)"/>
<rect x="599.70" y="75.10" width="21.15" height="20.20" fill="none" stroke="#fff" stroke-opacity="0.55" stroke-width="0.9"/>
<rect x="622.75" y="73.70" width="24.95" height="23.00" fill="url(#gg0)"/>
<rect x="624.65" y="75.10" width="21.15" height="20.20" fill="none" stroke="#fff" stroke-opacity="0.55" stroke-width="0.9"/>
<rect x="598.80" y="74.20" width="47.90" height="22.00" rx="1" fill="none" stroke="#000" stroke-width="2"/>
<line x1="622.75" y1="73.20" x2="622.75" y2="97.20" stroke="#000" stroke-width="2.2"/>
<circle cx="617.4" cy="240.2" r="1.3" fill="#e02020"/>
<rect x="100.8" y="192.8" width="38.4" height="33" fill="none" stroke="#999" stroke-width="3"/>
<rect x="316.2" y="205" width="17.5" height="16.7" fill="none" stroke="#999" stroke-width="2.2"/>
<rect x="479" y="197" width="40.3" height="26.5" fill="none" stroke="#999" stroke-width="3"/>
<line x1="389" y1="277" x2="428" y2="277" stroke="#000" stroke-width="5"/>
<path d="M436.3,277 L419.3,270.9 L422.3,277 L419.3,283.1 Z" fill="#000"/>
<path d="M363.9,29.9 L366.1,29.9 L365.8,34.7 L364.2,34.7 Z" fill="#000"/>
<path d="M420.8,108.3 L422.8,108.3 L422.5,114.7 L421.1,114.7 Z" fill="#000"/>
<ellipse cx="129.60" cy="25.85" rx="4.20" ry="5.45" fill="none" stroke="#a3c2ac" stroke-width="3.0"/>
<line x1="125.40" y1="25.85" x2="133.80" y2="25.85" stroke="#a3c2ac" stroke-width="1.4"/>
<ellipse cx="485.15" cy="29.90" rx="4.05" ry="5.50" fill="none" stroke="#a3c2ac" stroke-width="3.0"/>
<line x1="481.10" y1="29.90" x2="489.20" y2="29.90" stroke="#a3c2ac" stroke-width="1.4"/>
<text transform="matrix(1.4118,0,0,1.1175,135.59,35.80)" x="0" y="0" font-size="12" font-family="Liberation Serif" fill="#a8b8b0">1</text>
<text transform="matrix(1.0598,0,0,0.9161,112.27,48.49)" x="0" y="0" font-size="11" font-family="Liberation Sans" fill="#999999" stroke="#999999" stroke-width="0.15">Constant</text>
<text transform="matrix(1.0278,0,0,0.9778,105.49,122.90)" x="0" y="0" font-size="11" font-family="Liberation Sans" fill="#999999" stroke="#999999" stroke-width="0.15">Query / Key</text>
<text transform="matrix(1.2760,0,0,1.0977,121.05,149.90)" x="0" y="0" font-size="20" font-family="Liberation Sans" font-weight="bold" fill="#ee0000">m</text>
<text transform="matrix(1.0467,0,0,1.0375,115.33,161.57)" x="0" y="0" font-size="11" font-family="Liberation Sans" fill="#999999" stroke="#999999" stroke-width="0.15">Position</text>
<text transform="matrix(1.1836,0,0,0.9786,16.31,170.66)" x="0" y="0" font-size="19" font-family="Liberation Sans" fill="#555555">d=2</text>
<text transform="matrix(0.7429,0,0,1.0062,109.44,97.83)" x="0" y="0" font-size="13" font-family="Liberation Sans" fill="#000" stroke="#000" stroke-width="0.1">(</text>
<text transform="matrix(1.0612,0,0,0.9891,114.63,98.70)" x="0" y="0" font-size="13" font-family="Liberation Sans" fill="#000" stroke="#000" stroke-width="0.3">x</text>
<text transform="matrix(1.0500,0,0,0.9120,122.24,101.40)" x="0" y="0" font-size="9" font-family="Liberation Sans" fill="#000" stroke="#000" stroke-width="0.15">1</text>
<text transform="matrix(1.7600,0,0,1.2333,126.80,99.20)" x="0" y="0" font-size="13" font-family="Liberation Sans" fill="#000" stroke="#000" stroke-width="0.15">,</text>
<text transform="matrix(1.0612,0,0,0.9891,137.53,98.70)" x="0" y="0" font-size="13" font-family="Liberation Sans" fill="#000" stroke="#000" stroke-width="0.3">x</text>
<text transform="matrix(1.1500,0,0,0.8941,145.23,101.40)" x="0" y="0" font-size="9" font-family="Liberation Sans" fill="#000" stroke="#000" stroke-width="0.15">2</text>
<text transform="matrix(0.7704,0,0,1.0062,153.10,97.83)" x="0" y="0" font-size="13" font-family="Liberation Sans" fill="#000" stroke="#000" stroke-width="0.1">)</text>
<text transform="matrix(1.1579,0,0,1.1905,350.01,45.60)" x="0" y="0" font-size="20" font-family="Liberation Sans" fill="#000" stroke="#000" stroke-width="0.3">x</text>
<text transform="matrix(1.0833,0,0,1.1000,368.32,49.90)" x="0" y="0" font-size="13" font-family="Liberation Sans" fill="#000" stroke="#000" stroke-width="0.3">2</text>
<text transform="matrix(1.1579,0,0,1.1810,356.31,81.30)" x="0" y="0" font-size="20" font-family="Liberation Sans" fill="#000" stroke="#000" stroke-width="0.3">x</text>
<text transform="matrix(1.1583,0,0,1.1278,368.33,86.00)" x="0" y="0" font-size="13" font-family="Liberation Sans" fill="#000" stroke="#000" stroke-width="0.3">2</text>
<text transform="matrix(1.1579,0,0,1.1810,406.61,124.20)" x="0" y="0" font-size="20" font-family="Liberation Sans" fill="#000" stroke="#000" stroke-width="0.3">x</text>
<text transform="matrix(1.1200,0,0,1.2000,425.18,128.50)" x="0" y="0" font-size="13" font-family="Liberation Sans" fill="#000" stroke="#000" stroke-width="0.3">1</text>
<text transform="matrix(1.1895,0,0,1.1619,459.60,124.80)" x="0" y="0" font-size="20" font-family="Liberation Sans" fill="#000" stroke="#000" stroke-width="0.3">x</text>
<text transform="matrix(1.1200,0,0,1.1718,472.98,129.40)" x="0" y="0" font-size="13" font-family="Liberation Sans" fill="#000" stroke="#000" stroke-width="0.3">1</text>
<text transform="matrix(1.2257,0,0,1.1692,459.37,37.00)" x="0" y="0" font-size="18" font-family="Liberation Sans" font-weight="bold" fill="#ee0000">m</text>
<text transform="matrix(1.5412,0,0,1.0921,490.66,40.80)" x="0" y="0" font-size="12" font-family="Liberation Serif" fill="#a8b4ac">1</text>
<text transform="matrix(1.1929,0,0,0.9649,598.11,110.35)" x="0" y="0" font-size="13" font-family="Liberation Sans" fill="#000" stroke="#000" stroke-width="0.15">(x'<tspan font-size="9" dy="2.5">1</tspan><tspan dy="-2.5">, x'</tspan><tspan font-size="9" dy="2.5">2</tspan><tspan dy="-2.5">)</tspan></text>
<text transform="matrix(1.0278,0,0,0.9383,544.30,131.69)" x="0" y="0" font-size="11" font-family="Liberation Sans" fill="#8a8e9a" stroke="#8a8e9a" stroke-width="0.1">Position Encoded Query / Key</text>
<text transform="matrix(1.1954,0,0,0.9763,39.55,218.88)" x="0" y="0" font-size="10" font-family="Liberation Sans" fill="#222" stroke="#222" stroke-width="0.3">Enhanced</text>
<text transform="matrix(1.1795,0,0,1.0034,28.46,246.87)" x="0" y="0" font-size="10" font-family="Liberation Sans" fill="#222" stroke="#222" stroke-width="0.3">Transformer</text>
<text transform="matrix(1.3255,0,0,1.0576,70.40,274.97)" x="0" y="0" font-size="10" font-family="Liberation Sans" fill="#222" stroke="#222" stroke-width="0.3">with</text>
<text transform="matrix(1.1930,0,0,1.0333,56.96,301.10)" x="0" y="0" font-size="10" font-family="Liberation Sans" fill="#222" stroke="#222" stroke-width="0.3">Rotary</text>
<text transform="matrix(1.2088,0,0,1.0576,50.94,330.97)" x="0" y="0" font-size="10" font-family="Liberation Sans" fill="#222" stroke="#222" stroke-width="0.3">Position</text>
<text transform="matrix(1.2184,0,0,1.0987,32.53,357.67)" x="0" y="0" font-size="10" font-family="Liberation Sans" fill="#222" stroke="#222" stroke-width="0.3">Embedding</text>
<text transform="matrix(1.2632,0,0,1.1200,321.29,217.40)" x="0" y="0" font-size="11" font-family="Liberation Sans" fill="#e01010" stroke="#e01010" stroke-width="0.35">1</text>
<text transform="matrix(1.2878,0,0,1.1016,321.36,246.40)" x="0" y="0" font-size="11" font-family="Liberation Sans" fill="#808000" stroke="#808000" stroke-width="0.35">2</text>
<text transform="matrix(1.2878,0,0,1.0839,321.36,274.26)" x="0" y="0" font-size="11" font-family="Liberation Sans" fill="#008000" stroke="#008000" stroke-width="0.35">3</text>
<text transform="matrix(1.3636,0,0,1.1932,320.96,303.65)" x="0" y="0" font-size="11" font-family="Liberation Sans" fill="#008080" stroke="#008080" stroke-width="0.35">4</text>
<text transform="matrix(1.2878,0,0,1.1410,321.36,331.46)" x="0" y="0" font-size="11" font-family="Liberation Sans" fill="#40e0f0" stroke="#40e0f0" stroke-width="0.35">5</text>
<text transform="matrix(1.2878,0,0,1.0968,321.36,359.86)" x="0" y="0" font-size="11" font-family="Liberation Sans" fill="#000080" stroke="#000080" stroke-width="0.35">6</text>
<text transform="matrix(1.2930,0,0,0.9803,115.99,203.18)" x="0" y="0" font-size="12" font-family="Liberation Sans" fill="#a0c0a8">θ</text>
<text transform="matrix(1.2000,0,0,0.9143,124.10,204.80)" x="0" y="0" font-size="8" font-family="Liberation Serif" fill="#a0c0a8">1</text>
<text transform="matrix(1.3116,0,0,0.9803,145.88,203.18)" x="0" y="0" font-size="12" font-family="Liberation Sans" fill="#e8a0a8">θ</text>
<text transform="matrix(1.4720,0,0,0.9143,154.45,204.80)" x="0" y="0" font-size="8" font-family="Liberation Serif" fill="#e8a0a8">2</text>
<text transform="matrix(1.1535,0,0,1.0141,201.48,202.97)" x="0" y="0" font-size="12" font-family="Liberation Sans" fill="#f0c0a8">θ</text>
<text transform="matrix(1.2303,0,0,1.0727,209.84,204.80)" x="0" y="0" font-size="8" font-family="Liberation Serif" font-weight="bold" fill="#f0c0a8">d/2-1</text>
<text transform="matrix(1.1535,0,0,1.0141,238.78,202.97)" x="0" y="0" font-size="12" font-family="Liberation Sans" fill="#6890d8">θ</text>
<text transform="matrix(1.3700,0,0,1.0727,246.09,204.80)" x="0" y="0" font-size="8" font-family="Liberation Serif" font-weight="bold" fill="#6890d8">d/2</text>
<text transform="matrix(1.1389,0,0,0.9649,143.99,386.55)" x="0" y="0" font-size="13" font-family="Liberation Sans" fill="#8a8e9a" stroke="#8a8e9a" stroke-width="0.3">Query / Key</text>
<text transform="matrix(1.2158,0,0,1.1263,301.33,387.86)" x="0" y="0" font-size="13" font-family="Liberation Sans" fill="#8a8e9a" stroke="#8a8e9a" stroke-width="0.3">Position</text>
<text transform="matrix(1.1977,0,0,1.1010,464.45,387.72)" x="0" y="0" font-size="13" font-family="Liberation Sans" fill="#8a8e9a" stroke="#8a8e9a" stroke-width="0.3">Position Encoded Query / Key</text>
<text transform="matrix(1.0624,0,0,1.0612,79.64,438.89)" x="0" y="0" font-size="20" font-family="Liberation Serif" fill="#111">Figure 1: Implementation of Rotary Position Embedding(RoPE).</text>
</svg></body></html>
